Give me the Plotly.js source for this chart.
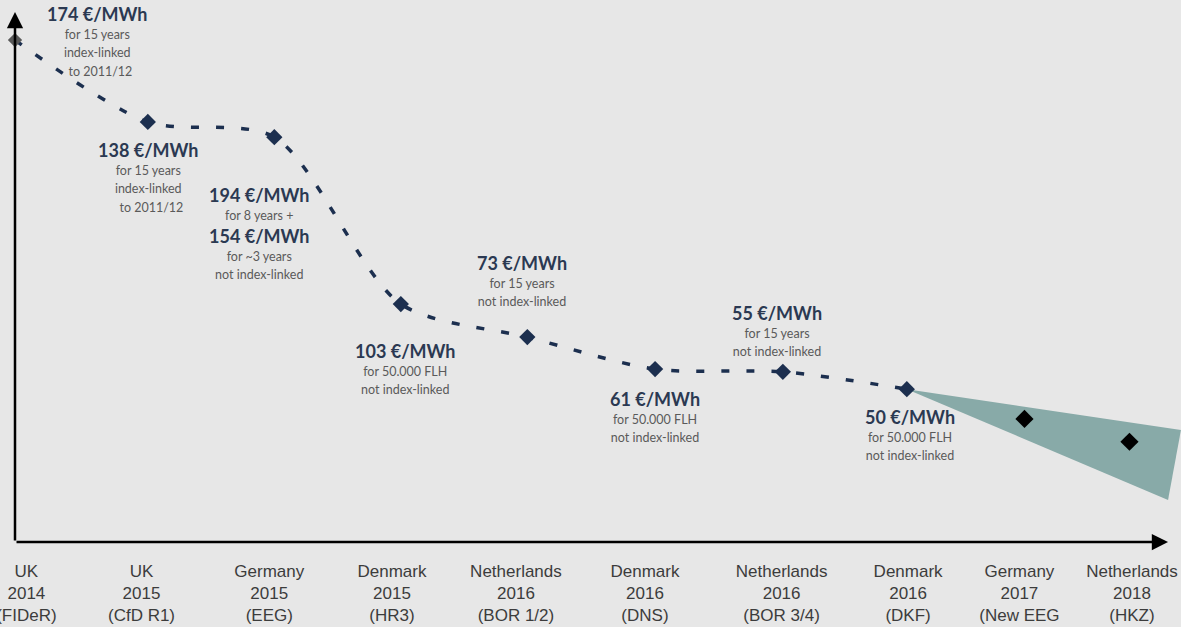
<!DOCTYPE html>
<html><head><meta charset="utf-8">
<script src="https://cdn.plot.ly/plotly-3.0.1.min.js"></script>
<style>html,body{margin:0;padding:0;background:#e7e7e7;} #chart{width:1181px;height:627px;}</style>
</head><body><div id="chart"></div>
<script>
// ---- data ----
const categories = ["UK<br>2014<br>(FIDeR)", "UK<br>2015<br>(CfD R1)", "Germany<br>2015<br>(EEG)", "Denmark<br>2015<br>(HR3)", "Netherlands<br>2016<br>(BOR 1/2)", "Denmark<br>2016<br>(DNS)", "Netherlands<br>2016<br>(BOR 3/4)", "Denmark<br>2016<br>(DKF)", "Germany<br>2017<br>(New EEG", "Netherlands<br>2018<br>(HKZ)"];
const tickPos = [0.09, 1.0, 2.01, 2.98, 3.96, 4.98, 6.06, 7.06, 7.94, 8.83];
const auctionPos = [0, 1.05, 2.05, 3.05, 4.05, 5.06, 6.07, 7.05, 7.98, 8.81];
// schematic level of each auction result (not to scale with the price)
const level = [92.6, 77.5, 74.7, 43.9, 37.8, 31.9, 31.4, 28.2, 22.7, 18.5];
const prices = ["174 €/MWh", "138 €/MWh", "194 €/MWh", "103 €/MWh", "73 €/MWh", "61 €/MWh", "55 €/MWh", "50 €/MWh"];
const terms = [
  ["for 15 years", "index-linked", "\u00a0\u00a0to 2011/12"],
  ["for 15 years", "index-linked", "\u00a0\u00a0to 2011/12"],
  ["for 8 years +", "154 €/MWh", "for ~3 years", "not index-linked"],
  ["for 50.000 FLH", "not index-linked"],
  ["for 15 years", "not index-linked"],
  ["for 50.000 FLH", "not index-linked"],
  ["for 15 years", "not index-linked"],
  ["for 50.000 FLH", "not index-linked"]
];
const corridorX = [7.05, 9.217, 9.115];
const corridorY = [28.2, 20.66, 7.75];

// ---- style ----
const NAVY = '#1c2f4f';
const TITLE = '#2b3952';
const SUB = '#5a5a5a';
const labelShift = [[82,-39],[0,15],[-15,45],[4,34],[-5,-87],[0,17],[-6,-72],[3,15]];
const LINE_H = 18.2, GROUP_GAP = 4;

const nLine = 8;
const traces = [
  {x: corridorX, y: corridorY, mode:'lines', fill:'toself', fillcolor:'#88aaa8', line:{width:0, color:'#88aaa8'}, hoverinfo:'skip'},
  {x: auctionPos.slice(0,nLine), y: level.slice(0,nLine), mode:'lines',
   line:{color:NAVY, width:3.5, dash:'8px,17px', shape:'spline', smoothing:0.8}, hoverinfo:'skip'},
  {x: auctionPos, y: level, mode:'markers', cliponaxis:false, opacity:1,
   marker:{symbol:'diamond', opacity:1, size: auctionPos.map((_,i)=> i===0 ? 11 : (i>=nLine ? 14 : 12.5)),
           color: auctionPos.map((_,i)=> i===0 ? '#595959' : (i>=nLine ? '#000000' : NAVY)), line:{width:0}}}
];

const ann = [];
const priceSpan = p => '<span style="font-size:18px;color:'+TITLE+'"><b>'+p+'</b></span>';
const subSpan = t => '<span style="font-size:12.5px;color:'+SUB+'">'+t+'</span>';
prices.forEach((p,i)=>{
  const groups = [[priceSpan(p)]];
  terms[i].forEach(t=>{
    if (t.indexOf('€/MWh')>=0) groups.push([priceSpan(t)]);
    else groups[groups.length-1].push(subSpan(t));
  });
  let offset = 0;
  groups.forEach(g=>{
    ann.push({x: auctionPos[i], y: level[i], xref:'x', yref:'y', text: g.join('<br>'), showarrow:false,
      xanchor:'center', yanchor:'top', xshift: labelShift[i][0], yshift: -(labelShift[i][1] + offset),
      font:{family:'Lato, sans-serif', size:14, color:SUB}, align:'center'});
    offset += g.length * LINE_H + GROUP_GAP;
  });
});
// axis arrows
ann.push({x:0, y:97.8, ax:0, ay:0, axref:'x', ayref:'y', xref:'x', yref:'y', text:'', showarrow:true,
  arrowhead:2, arrowsize:1.3, arrowwidth:2.5, arrowcolor:'#000'});
ann.push({x:9.115, y:0, ax:0, ay:0, axref:'x', ayref:'y', xref:'x', yref:'y', text:'', showarrow:true,
  arrowhead:2, arrowsize:1.3, arrowwidth:2.5, arrowcolor:'#000'});

const layout = {
  width:1181, height:627, margin:{l:0, r:0, t:0, b:85},
  paper_bgcolor:'#e7e7e7', plot_bgcolor:'#e7e7e7', showlegend:false,
  xaxis:{range:[-0.1186, 9.2174], tickmode:'array', tickvals:tickPos, ticktext:categories,
         showgrid:false, zeroline:false, showline:false, ticks:'', ticklabeloverflow:'allow', ticklabelstandoff:17,
         tickfont:{family:'Liberation Sans, Arial, sans-serif', size:17, color:'#3c3c3c'}},
  yaxis:{range:[0,100], visible:false, showgrid:false, zeroline:false},
  annotations: ann
};
Plotly.newPlot('chart', traces, layout, {displayModeBar:false, staticPlot:true});
</script></body></html>
